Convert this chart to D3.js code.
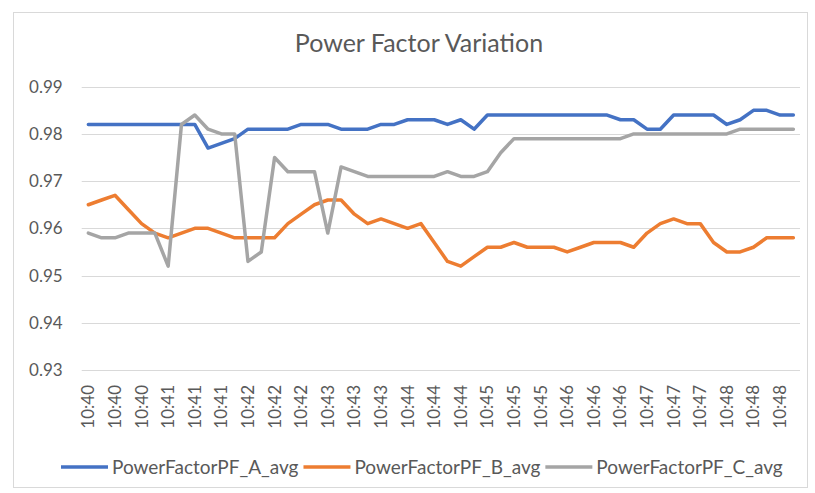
<!DOCTYPE html>
<meta charset="utf-8">
<style>
body { margin: 0; background-color: #FFFFFF; }
text { font-family: Lato, "Open Sans", sans-serif; fill: #595959; }
</style>
<svg width="815" height="493"></svg>
<script src="https://d3js.org/d3.v7.min.js"></script>
<script>

var categories = [
  "10:40","10:40","10:40","10:40","10:40","10:40",
  "10:41","10:41","10:41","10:41","10:41","10:41",
  "10:42","10:42","10:42","10:42","10:42","10:42",
  "10:43","10:43","10:43","10:43","10:43","10:43",
  "10:44","10:44","10:44","10:44","10:44","10:44",
  "10:45","10:45","10:45","10:45","10:45","10:45",
  "10:46","10:46","10:46","10:46","10:46","10:46",
  "10:47","10:47","10:47","10:47","10:47","10:47",
  "10:48","10:48","10:48","10:48","10:48","10:48"
];

var pfA = [
  0.982,0.982,0.982,0.982,0.982,0.982,0.982,0.982,0.982,0.977,
  0.978,0.979,0.981,0.981,0.981,0.981,0.982,0.982,0.982,0.981,
  0.981,0.981,0.982,0.982,0.983,0.983,0.983,0.982,0.983,0.981,
  0.984,0.984,0.984,0.984,0.984,0.984,0.984,0.984,0.984,0.984,
  0.983,0.983,0.981,0.981,0.984,0.984,0.984,0.984,0.982,0.983,
  0.985,0.985,0.984,0.984
];

var pfB = [
  0.965,0.966,0.967,0.964,0.961,0.959,0.958,0.959,0.960,0.960,
  0.959,0.958,0.958,0.958,0.958,0.961,0.963,0.965,0.966,0.966,
  0.963,0.961,0.962,0.961,0.960,0.961,0.957,0.953,0.952,0.954,
  0.956,0.956,0.957,0.956,0.956,0.956,0.955,0.956,0.957,0.957,
  0.957,0.956,0.959,0.961,0.962,0.961,0.961,0.957,0.955,0.955,
  0.956,0.958,0.958,0.958
];

var pfC = [
  0.959,0.958,0.958,0.959,0.959,0.959,0.952,0.982,0.984,0.981,
  0.980,0.980,0.953,0.955,0.975,0.972,0.972,0.972,0.959,0.973,
  0.972,0.971,0.971,0.971,0.971,0.971,0.971,0.972,0.971,0.971,
  0.972,0.976,0.979,0.979,0.979,0.979,0.979,0.979,0.979,0.979,
  0.979,0.980,0.980,0.980,0.980,0.980,0.980,0.980,0.980,0.981,
  0.981,0.981,0.981,0.981
];

var yTicks = [0.93, 0.94, 0.95, 0.96, 0.97, 0.98, 0.99];

var seriesNames = ["PowerFactorPF_A_avg", "PowerFactorPF_B_avg", "PowerFactorPF_C_avg"];
var colors = ["#4472C4", "#ED7D31", "#A5A5A5"];
var series = [pfA, pfB, pfC];

var svg = d3.select("svg");

// chart frame
svg.append("rect")
    .attr("x", 13.5).attr("y", 12.5)
    .attr("width", 794).attr("height", 475)
    .attr("fill", "#fff")
    .attr("stroke", "#d9d9d9");

var plotLeft = 81.7, plotRight = 800, plotTop = 86.7, plotBottom = 370;

var x = d3.scaleBand()
    .domain(d3.range(categories.length))
    .range([plotLeft, plotRight]);

var y = d3.scaleLinear()
    .domain([0.93, 0.99])
    .range([plotBottom, plotTop]);

// title
svg.append("text")
    .attr("x", 419)
    .attr("y", 52)
    .attr("text-anchor", "middle")
    .attr("font-size", 25)
    .text("Power Factor Variation");

// gridlines
svg.append("g")
  .selectAll("line")
  .data(yTicks)
  .enter().append("line")
    .attr("x1", plotLeft).attr("x2", plotRight)
    .attr("y1", function(d) { return Math.round(y(d)) + 0.5; })
    .attr("y2", function(d) { return Math.round(y(d)) + 0.5; })
    .attr("stroke", "#d9d9d9")
    .attr("stroke-width", 1.2);

// y axis labels
var yAxis = svg.append("g")
    .attr("transform", "translate(" + (plotLeft - 19) + ",0)")
    .call(d3.axisLeft(y).tickValues(yTicks).tickFormat(d3.format(".2f")).tickSize(0).tickPadding(0));
yAxis.select(".domain").remove();
yAxis.selectAll("text")
    .attr("font-size", 17)
    .attr("font-family", "Lato, sans-serif")
    .attr("fill", "#595959");

// x axis labels (every other category)
var xAxis = svg.append("g")
    .attr("transform", "translate(0," + (plotBottom + 15) + ")")
    .call(d3.axisBottom(x)
      .tickValues(d3.range(0, categories.length, 2))
      .tickFormat(function(i) { return categories[i]; })
      .tickSize(0).tickPadding(0));
xAxis.select(".domain").remove();
xAxis.selectAll("text")
    .attr("font-size", 17)
    .attr("font-family", "Lato, sans-serif")
    .attr("fill", "#595959")
    .attr("text-anchor", "end")
    .attr("transform", "rotate(-90)")
    .attr("x", 0)
    .attr("y", 0)
    .attr("dy", "0.35em");

// lines
var line = d3.line()
    .x(function(d, i) { return x(i) + x.bandwidth() / 2; })
    .y(function(d) { return y(d); });

svg.append("g")
  .selectAll("path")
  .data(series)
  .enter().append("path")
    .attr("d", line)
    .attr("fill", "none")
    .attr("stroke", function(d, i) { return colors[i]; })
    .attr("stroke-width", 3.5)
    .attr("stroke-linejoin", "round")
    .attr("stroke-linecap", "round");

// legend
var legend = svg.append("g").attr("transform", "translate(61,467)");
var lx = 0;
seriesNames.forEach(function(name, i) {
  legend.append("line")
      .attr("x1", lx).attr("x2", lx + 47)
      .attr("y1", 0).attr("y2", 0)
      .attr("stroke", colors[i])
      .attr("stroke-width", 3.5);
  var t = legend.append("text")
      .attr("x", lx + 51)
      .attr("y", 0)
      .attr("dy", "0.35em")
      .attr("font-size", 19)
      .text(name);
  lx += 51 + t.node().getComputedTextLength() + 5;
});

</script>
